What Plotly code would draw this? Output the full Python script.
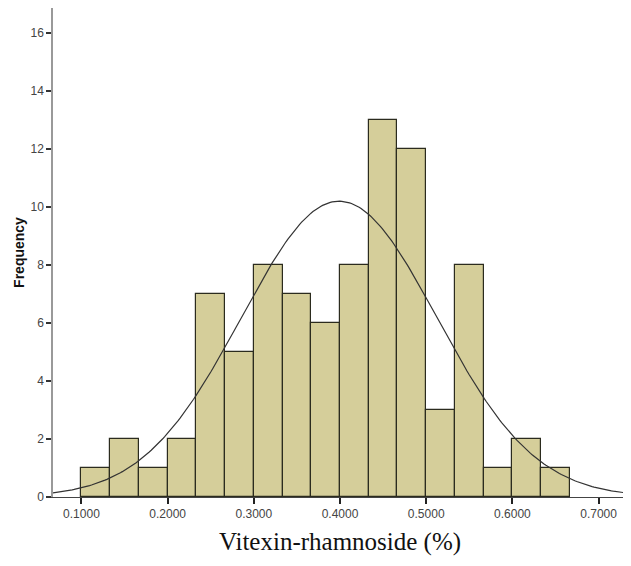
import numpy as np
import plotly.graph_objects as go

bin_start = 0.1
bin_width = 1/30
counts = [1, 2, 1, 2, 7, 5, 8, 7, 6, 8, 13, 12, 3, 8, 1, 2, 1]
x_ticks = [0.1, 0.2, 0.3, 0.4, 0.5, 0.6, 0.7]
x_tick_labels = ["0.1000", "0.2000", "0.3000", "0.4000", "0.5000", "0.6000", "0.7000"]
y_ticks = [0, 2, 4, 6, 8, 10, 12, 14, 16]
mean_val = 0.399
sd_val = 0.1135
n_total = sum(counts)

centers = [bin_start + bin_width * (i + 0.5) for i in range(len(counts))]

xs = np.linspace(0.067, 0.735, 300)
ys = n_total * bin_width / (sd_val * np.sqrt(2 * np.pi)) * np.exp(-0.5 * ((xs - mean_val) / sd_val) ** 2)

fig = go.Figure()
fig.add_trace(go.Bar(x=centers, y=counts, width=[bin_width] * len(counts),
                     marker=dict(color="#D5CE9A", line=dict(color="#2b2b1e", width=1.2)),
                     showlegend=False))
fig.add_trace(go.Scatter(x=xs, y=ys, mode="lines", line=dict(color="#333333", width=1.2),
                         showlegend=False, cliponaxis=True))

fig.update_layout(
    width=623, height=558,
    margin=dict(l=45, r=4, t=0, b=69),
    plot_bgcolor="white", paper_bgcolor="white",
    bargap=0,
    xaxis=dict(range=[0.067, 0.733], tickvals=x_ticks, ticktext=x_tick_labels, automargin=False,
               ticks="outside", ticklen=6, tickcolor="#222", tickwidth=1.5,
               showline=True, linecolor="#444", linewidth=1, showgrid=False, zeroline=False,
               tickfont=dict(family="Liberation Sans, Arial", size=12, color="#444"),
               title=dict(text="Vitexin-rhamnoside (%)", standoff=12,
                          font=dict(family="Liberation Serif, Times New Roman", size=25, color="#111"))),
    yaxis=dict(range=[0, 16.85], tickvals=y_ticks, automargin=False,
               ticks="outside", ticklen=5, tickcolor="#333", tickwidth=1.5,
               showline=True, linecolor="#999", linewidth=1.5, showgrid=False, zeroline=False,
               tickfont=dict(family="Liberation Sans, Arial", size=12, color="#444"),
               title=dict(text="<b>Frequency</b>", standoff=3,
                          font=dict(family="Liberation Sans, Arial", size=14, color="#111"))),
)

fig.write_html("out.html")
